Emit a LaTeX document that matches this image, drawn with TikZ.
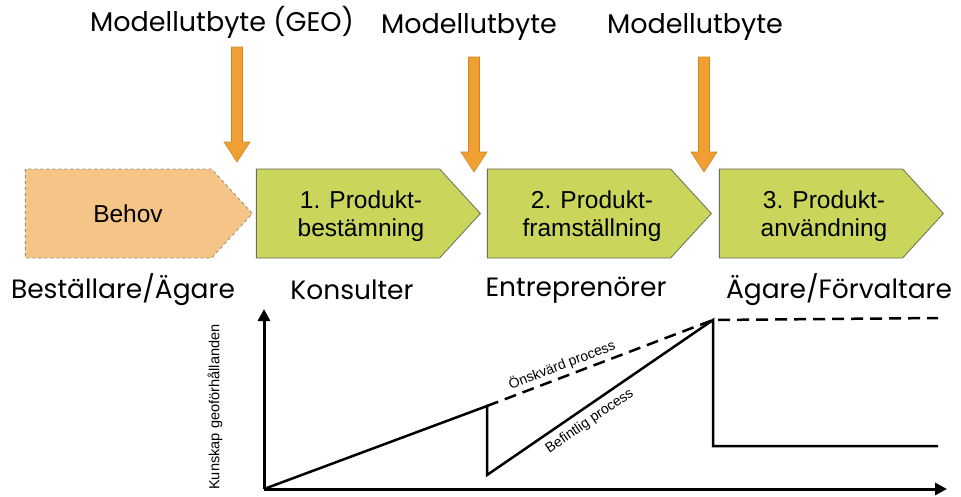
\documentclass[tikz,border=0pt]{standalone}
\usepackage{fontspec}
\setmainfont{Liberation Sans}
\newfontfamily\gothic{Poppins}
\usetikzlibrary{arrows.meta, positioning, shapes.symbols}

\definecolor{needfill}{HTML}{F5C487}
\definecolor{needline}{HTML}{8C8C8C}
\definecolor{stepfill}{HTML}{C9D65B}
\definecolor{stepline}{HTML}{6B6B5E}
\definecolor{swapfill}{HTML}{F0A033}
\definecolor{swapline}{HTML}{CF8526}

\tikzset{
  phase/.style={signal, signal to=east, signal pointer angle=95,
    minimum width=224, minimum height=89, inner sep=0pt,
    fill=stepfill, draw=stepline, line width=0.8pt},
  phasetext/.style={align=center, font=\fontsize{24.5}{28}\selectfont, xshift=13, yshift=-3},
  role/.style={font=\gothic\fontsize{26.5}{30}\selectfont},
  swap/.style={font=\gothic\fontsize{27}{30}\selectfont},
  curve/.style={line width=2.5pt},
  axis/.style={line width=3pt, -{Triangle[length=12pt,width=12pt]}},
  note/.style={font=\fontsize{14}{16}\selectfont, inner sep=2pt},
}

\begin{document}
\begin{tikzpicture}[x=1pt, y=-1pt]
    \useasboundingbox (0,0) rectangle (961,496);

    % model exchange labels and arrows
    \node[swap] (swap0) at (222,22) {Modellutbyte (GEO)};
    \node[swap] (swap1) at (469,27) {Modellutbyte};
    \node[swap] (swap2) at (695,27) {Modellutbyte};
    \foreach \x/\top/\tip in {237/47/162, 474/57/172, 704/57/172}
        \filldraw[fill=swapfill, draw=swapline, line width=0.6pt]
            ({\x-5.5},\top) -- ({\x+5.5},\top) -- ({\x+5.5},{\tip-20})
            -- ({\x+13},{\tip-20}) -- (\x,\tip) -- ({\x-13},{\tip-20})
            -- ({\x-5.5},{\tip-20}) -- cycle;

    % process steps
    \node[phase, minimum width=227, fill=needfill, draw=needline, dashed,
          label={[phasetext, xshift=-3.5, yshift=3]center:Behov}] (need) at (118.5,213.5) {};
    \node[phase, label={[phasetext]center:{1. Produkt-\\bestämning}}] (step1) at (348,213.5) {};
    \node[phase, label={[phasetext]center:{2. Produkt-\\framställning}}] (step2) at (579,213.5) {};
    \node[phase, label={[phasetext]center:{3. Produkt-\\användning}}] (step3) at (811,213.5) {};

    % who is responsible
    \node[role] (owner) at (123,290) {Beställare/Ägare};
    \node[role] (consult) at (352,290) {Konsulter};
    \node[role] (contract) at (576,290) {Entreprenörer};
    \node[role] (manager) at (839,290) {Ägare/Förvaltare};

    % knowledge graph
    \coordinate (O) at (264,489);
    \coordinate (ytop) at (264,309);
    \coordinate (xend) at (947,489);
    \coordinate (a) at (487,406);
    \coordinate (b) at (487,475);
    \coordinate (peak) at (713,320);
    \coordinate (drop) at (713,446);
    \coordinate (endlow) at (938,446);
    \coordinate (endhigh) at (938,318);

    \draw[axis] (O) -- (ytop);
    \draw[axis] (O) -- (xend);
    \node[note, rotate=90, font=\fontsize{14.6}{16}\selectfont] (ylab) at (215,407) {Kunskap geoförhållanden};

    \draw[curve, line join=miter] (O) -- (a) -- (b)
        -- node[note, sloped, below, inner sep=6pt, pos=0.42] {Befintlig process} (peak)
        -- (drop) -- (endlow);
    \draw[curve, dash pattern=on 12pt off 7pt] (a)
        -- node[note, sloped, above, inner sep=3pt, pos=0.35] {Önskvärd process} (peak) -- (endhigh);
\end{tikzpicture}
\end{document}
